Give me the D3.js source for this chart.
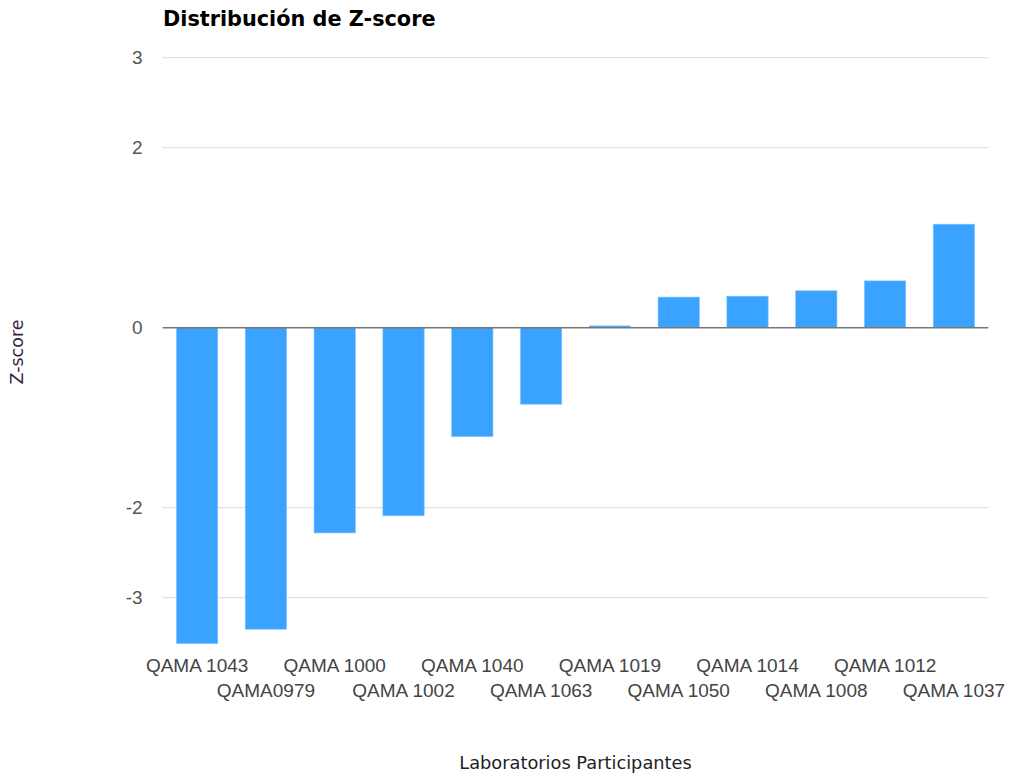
<!DOCTYPE html>
<html>
<head>
<meta charset="utf-8">
<script src="https://cdn.jsdelivr.net/npm/d3@7/dist/d3.min.js"></script>
<style>
  html, body { margin: 0; padding: 0; background: #fff; }
  svg { display: block; }
</style>
</head>
<body>
<svg id="chart" width="1011" height="777"></svg>
<script>
// Laboratories and their Z-score
const labs = ["QAMA 1043", "QAMA0979", "QAMA 1000", "QAMA 1002", "QAMA 1040", "QAMA 1063",
              "QAMA 1019", "QAMA 1050", "QAMA 1014", "QAMA 1008", "QAMA 1012", "QAMA 1037"];
const zscores = [-3.51, -3.35, -2.28, -2.09, -1.21, -0.85, 0.02, 0.34, 0.35, 0.41, 0.52, 1.15];
const yTicks = [3, 2, 0, -2, -3];

const titleText = "Distribución de Z-score";
const xTitle = "Laboratorios Participantes";
const yTitle = "Z-score";

const svg = d3.select("#chart");
const plotLeft = 162.7, plotRight = 988.3, plotTop = 57.7;

const y = d3.scaleLinear().domain([-3.5, 3]).range([plotTop + 6.5 * 90, plotTop]);
const x = d3.scaleBand().domain(labs).range([plotLeft, plotRight]).paddingInner(0.4).paddingOuter(0.2);

// horizontal grid lines
svg.append("g")
  .selectAll("line")
  .data(yTicks.filter(d => d !== 0))
  .join("line")
  .attr("x1", plotLeft).attr("x2", plotRight)
  .attr("y1", d => y(d)).attr("y2", d => y(d))
  .attr("stroke", "#d9d9d9").attr("stroke-width", 1);

// y tick labels (plain hyphen for negatives)
const yAxis = d3.axisLeft(y).tickValues(yTicks).tickSize(0).tickPadding(20).tickFormat(d => String(d));
const gy = svg.append("g").attr("transform", `translate(${plotLeft},0)`).call(yAxis);
gy.select(".domain").remove();
gy.selectAll("text")
  .attr("font-family", "Arial, 'Liberation Sans', sans-serif")
  .attr("font-size", 19)
  .attr("fill", "#555");

// bars
svg.append("g")
  .selectAll("rect")
  .data(labs.map((l, i) => ({ lab: l, v: zscores[i] })))
  .join("rect")
  .attr("x", d => x(d.lab))
  .attr("width", x.bandwidth())
  .attr("y", d => Math.min(y(d.v), y(0)))
  .attr("height", d => Math.abs(y(d.v) - y(0)))
  .attr("fill", "#39a3ff")
  .attr("stroke", "#7cc2ff")
  .attr("stroke-width", 0.6);

// zero baseline
svg.append("line")
  .attr("x1", plotLeft).attr("x2", plotRight)
  .attr("y1", y(0)).attr("y2", y(0))
  .attr("stroke", "#777").attr("stroke-width", 1.5);

// category labels, staggered in two rows
const xAxis = d3.axisBottom(x).tickSize(0).tickPadding(0);
const gx = svg.append("g").call(xAxis);
gx.select(".domain").remove();
gx.selectAll("text")
  .attr("y", (d, i) => i % 2 === 0 ? 672 : 697)
  .attr("dy", 0)
  .attr("font-family", "Arial, 'Liberation Sans', sans-serif")
  .attr("font-size", 19)
  .attr("fill", "#444");

// chart title
svg.append("text")
  .attr("x", 163).attr("y", 25.5)
  .attr("font-family", "'DejaVu Sans', Verdana, sans-serif")
  .attr("font-weight", "bold")
  .attr("font-size", 20.8)
  .attr("fill", "#000")
  .text(titleText);

// x axis title
svg.append("text")
  .attr("x", 575.5).attr("y", 769)
  .attr("text-anchor", "middle")
  .attr("font-family", "'DejaVu Sans', Verdana, sans-serif")
  .attr("font-size", 17.8)
  .attr("fill", "#222")
  .text(xTitle);

// y axis title
svg.append("text")
  .attr("transform", "translate(23,352) rotate(-90)")
  .attr("text-anchor", "middle")
  .attr("font-family", "'DejaVu Sans', Verdana, sans-serif")
  .attr("font-size", 17.5)
  .attr("fill", "#3a1f4a")
  .text(yTitle);
</script>
</body>
</html>
